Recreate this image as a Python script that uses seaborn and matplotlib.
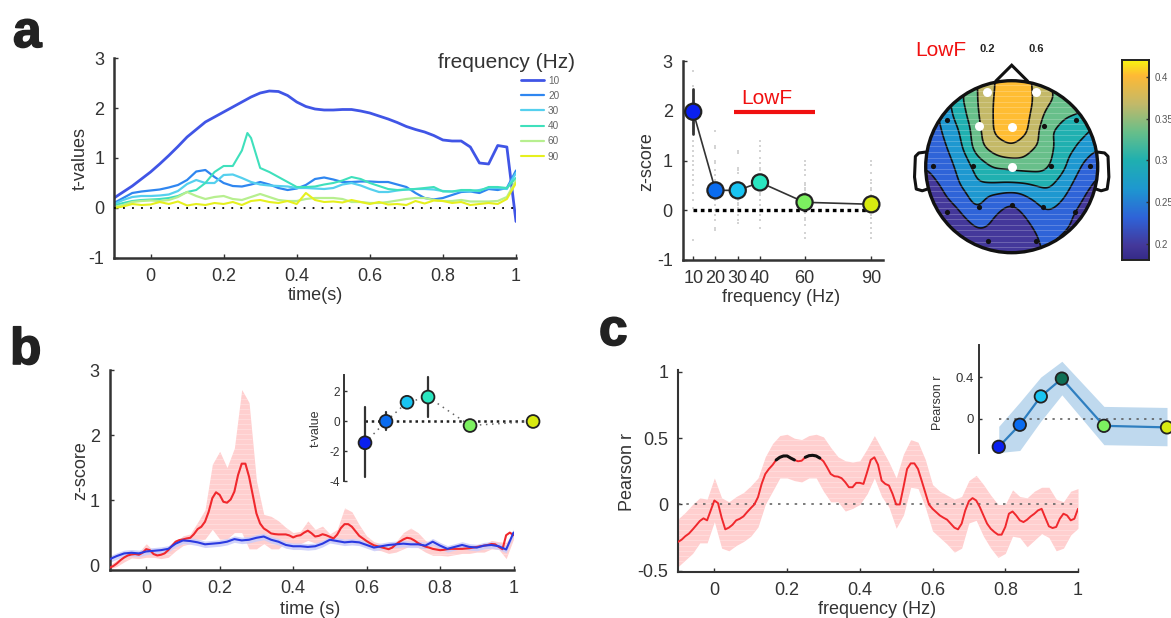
import numpy as np
import matplotlib
matplotlib.use("Agg")
import matplotlib.pyplot as plt
import matplotlib.tri as mtri
import matplotlib.patheffects as pe
from matplotlib.colors import LinearSegmentedColormap
from matplotlib.patches import Circle, Polygon
import seaborn as sns

sns.set_theme(style="ticks")
plt.rcParams["font.family"] = ["Liberation Sans", "DejaVu Sans"]
W, H = 1171, 618
INK = "#333333"
plt.rcParams.update({"text.color": INK, "axes.labelcolor": INK, "xtick.color": INK, "ytick.color": INK,
                     "axes.edgecolor": INK, "axes.unicode_minus": False})

# ---------- data ----------
FREQS = [10, 20, 30, 40, 60, 90]
FREQ_COLORS = ["#0a20f0", "#0a6cf0", "#19c4f2", "#2ae6c0", "#7cf060", "#d8ea10"]
LINE_COLORS = ["#4055e6", "#2f86f0", "#55d0ee", "#3fe0bc", "#b7ef8f", "#e6f01e"]

T_A = np.array([-.1, -.075, -.05, -.025,
                0, .025, .05, .075, .1, .125, .15, .175,
                .2, .225, .25, .275, .3, .325, .35, .375,
                .4, .425, .45, .475, .5, .525, .55, .575,
                .6, .625, .65, .675, .7, .725, .75, .775,
                .8, .825, .85, .875, .9, .925, .95, .975, 1.0])
T_40 = np.array([-.1, -.075, -.05, -.025,
                 0, .025, .05, .075, .1, .125, .15, .175,
                 .2, .225, .25, .265, .275, .3, .325, .35, .375,
                 .4, .425, .45, .475, .5, .525, .55, .575,
                 .6, .625, .65, .675, .7, .725, .75, .775,
                 .8, .825, .85, .875, .9, .925, .95, .975, 1.0])
tv_10 = [.20, .32, .44, .58,
         .72, .88, 1.05, 1.23, 1.42, 1.57, 1.72, 1.82,
         1.92, 2.02, 2.12, 2.22, 2.30, 2.34, 2.33, 2.25,
         2.12, 2.03, 1.98, 1.96, 1.96, 1.97, 1.97, 1.94,
         1.90, 1.84, 1.78, 1.71, 1.63, 1.57, 1.52, 1.45,
         1.36, 1.34, 1.34, 1.22, .90, .88, 1.25, 1.22, -.27]
tv_20 = [.10, .20, .30, .33,
         .35, .37, .41, .46, .56, .73, .76, .62,
         .50, .44, .43, .47, .52, .47, .40, .36,
         .39, .46, .58, .61, .57, .52, .52, .53,
         .53, .52, .52, .47, .42, .30, .20, .17,
         .20, .26, .32, .33, .30, .38, .36, .40, .75]
tv_30 = [.08, .16, .22, .24,
         .24, .25, .27, .34, .48, .56, .50, .50,
         .66, .67, .60, .52, .47, .45, .44, .43,
         .40, .40, .39, .38, .40, .47, .50, .45,
         .38, .32, .32, .35, .37, .38, .38, .37,
         .34, .33, .34, .33, .36, .40, .40, .38, .70]
tv_40 = [.05, .10, .14, .16,
         .17, .18, .20, .24, .32, .36, .50, .72,
         .84, .84, 1.15, 1.50, 1.40, .80, .72, .62, .52,
         .42, .42, .43, .47, .50, .55, .62, .58,
         .50, .44, .38, .36, .37, .38, .40, .42,
         .33, .33, .36, .36, .34, .42, .42, .40, .60]
tv_60 = [.02, .06, .12, .14,
         .15, .14, .16, .22, .32, .24, .18, .22,
         .24, .18, .16, .22, .28, .22, .16, .14,
         .14, .18, .20, .20, .20, .18, .12, .12,
         .10, .10, .12, .15, .18, .20, .20, .16,
         .14, .14, .16, .13, .13, .13, .14, .22, .55]
tv_90 = [0, .03, .08, .06,
         .07, .12, .08, .13, .05, .08, .06, .10,
         .08, .12, .06, .14, .16, .12, .10, .14,
         .08, .30, .16, .12, .13, .11, .16, .12,
         .08, .12, .07, .08, .06, .14, .09, .15,
         .14, .10, .12, .06, .08, .10, .08, .18, .50]

z_mean = [1.98, .40, .40, .56, .16, .12]
z_err_10 = .45
sub_10 = [2.8, 2.5, 2.2, 1.75, 1.6, 1.4, 1.3, 1.2, 1.1, 1.0, .9, .8, .7, .6, .5, .35, .2, .05, -.6]
sub_20 = [1.6, 1.3, 1.25, 1, .95, .8, .7, .6, .5, .4, .3, .2, .1, 0, -.1, -.2, -.35, -.4]
sub_30 = [1.2, 1.15, .85, .8, .75, .5, .45, .4, .35, .3, .25, .2, .15, .1, .05, 0, -.1, -.2, -.25]
sub_40 = [1.4, 1.3, 1.2, 1.05, .95, .85, .8, .6, .5, .45, .35, .3, .2, .1, 0, -.1, -.2, -.35]
sub_60 = [1.0, .9, .8, .7, .55, .5, .45, .4, .35, .3, .25, .2, .1, 0, -.05, -.15, -.2, -.3, -.45, -.55]
sub_90 = [1.0, .9, .75, .6, .55, .45, .4, .3, .25, .2, .15, .1, .05, 0, -.1, -.15, -.25, -.35, -.45, -.55]

TOPO_AXIS = [-1, -.8, -.6, -.4, -.2, 0, .2, .4, .6, .8, 1]
topo_rows = [
    [.240, .260, .300, .355, .385, .410, .390, .360, .330, .300, .270],
    [.230, .265, .312, .351, .388, .410, .392, .362, .340, .330, .320],
    [.220, .262, .300, .347, .390, .410, .390, .342, .320, .315, .300],
    [.225, .250, .283, .338, .390, .410, .385, .322, .305, .292, .270],
    [.225, .240, .272, .334, .365, .378, .358, .330, .300, .275, .249],
    [.215, .228, .260, .295, .320, .325, .330, .325, .290, .249, .215],
    [.205, .218, .250, .280, .282, .280, .283, .294, .269, .231, .208],
    [.195, .205, .228, .262, .230, .217, .241, .264, .247, .216, .195],
    [.185, .190, .205, .234, .213, .195, .217, .240, .230, .200, .185],
    [.185, .185, .190, .205, .200, .190, .205, .225, .213, .195, .185],
    [.183, .183, .185, .188, .190, .188, .200, .220, .200, .188, .185],
]
topo_levels = [.181, .215, .249, .283, .317, .351, .385, .42]
cb_ticks = [.2, .25, .3, .35, .4]
cb_labels = ["0.2", "0.25", "0.3", "0.35", "0.4"]
el_black_x = [-.748, -.91, -.453, -.752, -.376, 0, .368, -.28, .28, .736, .912, .453, .748, .372]
el_black_y = [.543, .008, .008, -.523, -.465, -.446, -.465, -.864, -.864, -.523, .008, .008, .543, .477]
el_white_x = [-.283, .279, -.380, 0, 0]
el_white_y = [.872, .872, .477, .461, 0]

T_BAND = np.arange(56) * .02 - .1
T_LINE = np.arange(111) * .01 - .1
b_red = [-.04, -.015, .025, .077, .118, .149, .164, .17, .159, .19,
         .246, .23, .17, .149, .159, .18, .23, .297, .36, .385,
         .395, .41, .42, .477, .554, .59, .667, .82, 1.03, 1.12,
         1.08, .974, .96, 1.01, 1.13, 1.385, 1.56, 1.56, 1.36, 1.08,
         .795, .64, .564, .528, .487, .477, .472, .472, .472, .456,
         .426, .45, .46, .50, .53, .49, .44, .45, .475, .46,
         .435, .41, .47, .57, .63, .63, .59, .52, .45, .41,
         .37, .335, .305, .29, .275, .26, .245, .27, .32, .36,
         .395, .42, .41, .38, .34, .31, .285, .27, .25, .24,
         .23, .235, .245, .25, .25, .25, .25, .255, .26, .27,
         .28, .29, .30, .31, .325, .32, .28, .245, .46, .50,
         .46]
b_red_hi = [0, .08, .13, .17, .20,
            .33, .22, .20, .25, .35,
            .45, .48, .66, .85, 1.55,
            1.75, 1.50, 1.80, 2.70, 2.50,
            1.30, .78, .75, .68, .58,
            .50, .52, .68, .55, .60,
            .48, .55, .88, .82, .62,
            .45, .36, .33, .30, .36,
            .50, .57, .50, .38, .33,
            .30, .28, .30, .30, .30,
            .30, .32, .38, .36, .35,
            .50]
b_red_lo = [-.06, -.02, .05, .11, .10,
            .12, .12, .10, .12, .22,
            .30, .33, .38, .40, .55,
            .40, .40, .50, .50, .25,
            .25, .33, .25, .25, .35,
            .33, .33, .38, .34, .33,
            .37, .34, .36, .35, .32,
            .29, .24, .22, .18, .20,
            .25, .30, .27, .20, .15,
            .15, .14, .16, .18, .18,
            .20, .20, .25, .24, .10,
            .40]
b_blue = [.09, .14, .18, .19, .18,
          .21, .22, .23, .25, .33,
          .38, .37, .35, .32, .33,
          .34, .36, .40, .38, .39,
          .42, .44, .39, .36, .31,
          .29, .29, .28, .29, .33,
          .39, .37, .35, .36, .35,
          .31, .27, .29, .31, .32,
          .33, .32, .32, .30, .36,
          .30, .25, .28, .31, .28,
          .27, .30, .31, .29, .24,
          .50]
b_blue_sem = .05
inset_b_t = [-1.45, -.02, 1.25, 1.6, -.3, -.03]
inset_b_lo = [-3.73, -.62, .95, .27, -.55, -.3]
inset_b_hi = [.93, .6, 1.55, 2.93, -.05, .25]

c_red = [-.283, -.266, -.24, -.22, -.19, -.158, -.125, -.105, -.12, -.045,
         .03, .01, -.10, -.188, -.175, -.153, -.12, -.108, -.09, -.058,
         -.028, 0, .055, .155, .23, .268, .298, .336, .356, .366,
         .366, .35, .336, .326, .33, .356, .368, .371, .366, .35,
         .326, .28, .23, .213, .21, .198, .168, .13, .13, .163,
         .163, .155, .243, .336, .356, .30, .18, .155, .143, .08,
         0, 0, .13, .268, .31, .31, .268, .18, .09, 0,
         -.033, -.058, -.083, -.10, -.115, -.145, -.175, -.188, -.145, -.045,
         .025, .048, .03, -.02, -.083, -.145, -.183, -.208, -.228, -.228,
         -.17, -.07, -.053, -.083, -.12, -.133, -.115, -.09, -.07, -.045,
         -.033, -.10, -.165, -.178, -.17, -.108, -.07, -.083, -.12, -.108,
         -.033]
c_hi = [-.11, -.06, 0, .05, .04,
        .20, .05, .02, .06, .09,
        .14, .20, .36, .46, .52,
        .53, .50, .49, .52, .53,
        .51, .43, .36, .33, .32,
        .33, .42, .52, .42, .32,
        .20, .38, .49, .47, .34,
        .15, .10, .07, .04, .06,
        .18, .22, .15, .07, 0,
        0, .11, .06, .05, .10,
        .13, .13, .04, .02, .10,
        .12]
c_lo = [-.47, -.42, -.37, -.29, -.29,
        -.13, -.33, -.35, -.31, -.28,
        -.24, -.17, 0, .10, .20,
        .20, .18, .17, .20, .20,
        .10, .02, .02, -.05, -.03,
        0, .08, .20, .06, -.02,
        -.18, -.08, .13, .12, -.02,
        -.20, -.25, -.30, -.36, -.33,
        -.14, -.12, -.24, -.33, -.40,
        -.37, -.24, -.25, -.32, -.27,
        -.22, -.25, -.35, -.33, -.23,
        -.18]
inset_c_r = [-.265, -.055, .215, .385, -.065, -.08]
inset_c_hi = [-.07, .16, .40, .55, .12, .11]
inset_c_lo = [-.32, -.30, -.02, .23, -.245, -.255]
inset_c_colors = ["#0a20f0", "#0a6cf0", "#19c4f2", "#0f6f55", "#7cf060", "#d8ea10"]

# ---------- helpers ----------
fig = plt.figure(figsize=(W / 100, H / 100), dpi=100, facecolor="white")


def px_axes(l, t, r, b):
    ax = fig.add_axes([l / W, 1 - b / H, (r - l) / W, (b - t) / H])
    ax.patch.set_alpha(0)
    return ax


def ftext(x, y, s, **kw):
    kw.setdefault("ha", "center")
    kw.setdefault("va", "center")
    return fig.text(x / W, 1 - y / H, s, **kw)


def style(ax, lw=1.8, ts=13):
    sns.despine(ax=ax)
    ax.spines["left"].set_linewidth(lw)
    ax.spines["bottom"].set_linewidth(lw)
    ax.tick_params(direction="in", length=3, width=1, labelsize=ts, pad=7)


def line(ax, x, y, color, lw=1.5, **kw):
    sns.lineplot(x=np.asarray(x), y=np.asarray(y), ax=ax, color=color, lw=lw,
                 estimator=None, errorbar=None, legend=False, **kw)
    return ax.lines[-1]


def band(ax, x, lo, hi, color, step, lw=.6):
    poly = ax.fill_between(x, lo, hi, color=color, lw=0, zorder=1)
    ys = np.arange(np.min(lo), np.max(hi), step)
    st = ax.hlines(ys, np.min(x), np.max(x), color="white", lw=lw, alpha=.3, zorder=1.5)
    st.set_clip_path(poly.get_paths()[0], poly.get_transform())
    return poly


def dots(ax, y, size=85, lw=1.3, colors=FREQ_COLORS):
    names = [str(f) for f in FREQS]
    sns.scatterplot(x=FREQS, y=y, hue=names, palette=dict(zip(names, colors)), s=size,
                    edgecolor="#222222", linewidth=lw, legend=False, ax=ax, zorder=5, clip_on=False)


TIME_TICKS = [0, .2, .4, .6, .8, 1]
TIME_LABELS = ["0", "0.2", "0.4", "0.6", "0.8", "1"]

# ---------- panel a, time courses ----------
ax = px_axes(114, 58, 516, 258)
handles = []
for t, y, c, lw in zip([T_A, T_A, T_A, T_40, T_A, T_A], [tv_10, tv_20, tv_30, tv_40, tv_60, tv_90],
                       LINE_COLORS, [2, 1.6, 1.6, 1.5, 1.6, 1.5]):
    handles.append(line(ax, t, y, c, lw=lw))
ax.plot([-.1, 1], [0, 0], color="black", lw=1.3, ls=(0, (1, 4)), zorder=6)
ax.set_xlim(-.1, 1)
ax.set_ylim(-1, 3)
ax.set_xticks(TIME_TICKS, TIME_LABELS)
ax.set_yticks([-1, 0, 1, 2, 3])
ax.set_xlabel("")
ax.set_ylabel("")
style(ax)
ftext(80, 159, "t-values", rotation=90, fontsize=13)
ftext(315, 296, "time(s)", fontsize=13)
ftext(506, 62, "frequency (Hz)", fontsize=15)
fig.legend(handles, [str(f) for f in FREQS], loc="upper left",
           bbox_to_anchor=(520.5 / W, 1 - 75.5 / H), frameon=False, fontsize=7.2, borderpad=0,
           borderaxespad=0, labelspacing=.52, handlelength=2.35, handletextpad=.4, labelcolor="#666666")

# ---------- panel a, z-score by frequency ----------
ax = px_axes(682.5, 61, 882.5, 260)
for f, vals in zip(FREQS, [sub_10, sub_20, sub_30, sub_40, sub_60, sub_90]):
    sns.scatterplot(x=[f] * len(vals), y=vals, marker="s", s=2.5, color="#d4d4d4", linewidth=0, ax=ax,
                    legend=False, zorder=2)
ax.plot([10, 90], [0, 0], color="black", lw=2.4, ls=(0, (1.1, 1.1)), zorder=3)
ax.plot([10, 10], [z_mean[0] - z_err_10, z_mean[0] + z_err_10], color="#333333", lw=2, zorder=3)
line(ax, FREQS, z_mean, "#333333", lw=1.2, zorder=4)
dots(ax, z_mean, size=135, lw=1.6)
ax.plot([28.5, 64.5], [1.97, 1.97], color="#f01010", lw=3, solid_capstyle="butt")
ax.set_xlim(5.2, 95)
ax.set_ylim(-1, 3)
ax.set_xticks(FREQS, [str(f) for f in FREQS])
ax.set_yticks([-1, 0, 1, 2, 3])
ax.set_xlabel("")
ax.set_ylabel("")
style(ax)
ftext(647, 162, "z-score", rotation=90, fontsize=13)
ftext(781, 298, "frequency (Hz)", fontsize=13)
ftext(767, 98, "LowF", color="#f01010", fontsize=15)

# ---------- panel a, topography ----------
ax = px_axes(905, 55, 1115, 270)
cx, cy, r = 1011.7, 166.7, 86.0
ax.set_xlim((905 - cx) / r, (1115 - cx) / r)
ax.set_ylim((cy - 270) / r, (cy - 55) / r)
ax.axis("off")
parula = LinearSegmentedColormap.from_list(
    "parula_ref",
    [(0, "#352a87"), (.07, "#44389a"), (.21, "#2f63d8"), (.356, "#1e98d0"), (.5, "#20b0b0"),
     (.64, "#68bf8a"), (.78, "#c2b96a"), (.925, "#ffba35"), (1, "#f8f510")])
gx, gy = np.meshgrid(TOPO_AXIS, TOPO_AXIS[::-1])
tri = mtri.Triangulation(gx.ravel(), gy.ravel())
fx, fy = np.meshgrid(np.linspace(-1, 1, 201), np.linspace(-1, 1, 201))
fz = mtri.LinearTriInterpolator(tri, np.array(topo_rows).ravel())(fx, fy)
fz = np.ma.filled(fz, .2)
kernel = np.ones(11) / 11
for _ in range(3):      # soften the grid facets so the contours read as smooth isolines
    pad = np.pad(fz, 5, mode="edge")
    fz = np.apply_along_axis(lambda v: np.convolve(v, kernel, mode="valid"), 0, pad)
    fz = np.apply_along_axis(lambda v: np.convolve(v, kernel, mode="valid"), 1, fz)
fz = np.clip(fz, .1815, .4195)
head = Circle((0, 0), 1, transform=ax.transData, fc="none", ec="none")
ax.add_patch(head)
cf = ax.contourf(fx, fy, fz, levels=topo_levels, cmap=parula, vmin=.181, vmax=.42)
cl = ax.contour(fx, fy, fz, levels=topo_levels[1:-1], colors="#111111", linewidths=1.2)
cf.set_clip_path(head)
cl.set_clip_path(head)
st = ax.hlines(np.arange(-1, 1, .065), -1, 1, color="white", lw=.6, alpha=.25, zorder=3)
st.set_clip_path(head)
ax.add_patch(Circle((0, 0), 1, fc="none", ec="#111111", lw=2.4, zorder=6))
ax.add_patch(Polygon([[-.19, .99], [0, 1.18], [.19, .99]], closed=False, fc="white", ec="#111111", lw=2.2,
                     zorder=5, clip_on=False))
for s in (-1, 1):
    ax.plot(s * np.array([1.0, 1.08, 1.12, 1.13, 1.11, 1.04, .98]),
            [.17, .16, .12, -.12, -.26, -.28, -.26], color="#111111", lw=2.2, clip_on=False, zorder=2)
sns.scatterplot(x=el_black_x, y=el_black_y, color="#111111", s=14, linewidth=0, ax=ax, zorder=7, legend=False)
sns.scatterplot(x=el_white_x, y=el_white_y, color="white", s=42, linewidth=0, ax=ax, zorder=7, legend=False)
ax.set_xlabel("")
ax.set_ylabel("")
ftext(941, 51, "LowF", color="#f01010", fontsize=15)
ftext(987, 49, "0.2", fontsize=8, fontweight="bold", color="#222222")
ftext(1036, 49, "0.6", fontsize=8, fontweight="bold", color="#222222")

# colour bar
cax = px_axes(1122, 60, 1149, 260)
grad = np.linspace(.181, .42, 256).reshape(-1, 1)
cax.imshow(grad, origin="lower", aspect="auto", cmap=parula, extent=[0, 1, .181, .42], vmin=.181, vmax=.42)
cax.set_xticks([])
cax.set_yticks(cb_ticks, cb_labels)
cax.yaxis.tick_right()
cax.tick_params(axis="y", direction="in", length=2, width=1, labelsize=7, pad=4, labelcolor="#555555")
for sp in cax.spines.values():
    sp.set_linewidth(1.4)
    sp.set_color("#222222")

# ---------- panel b ----------
ax = px_axes(109.5, 370, 513.5, 570)
band(ax, T_BAND, b_red_lo, b_red_hi, "#ffcfcf", .077)
ax.fill_between(T_BAND, np.array(b_blue) - b_blue_sem, np.array(b_blue) + b_blue_sem, color="#c9ccfa", lw=0,
                alpha=.85, zorder=1.6)
line(ax, T_LINE, b_red, "#f0282d", lw=1.5, zorder=3)
line(ax, T_BAND, b_blue, "#2a3ae0", lw=1.5, zorder=4)
ax.set_xlim(-.1, 1)
ax.set_ylim(-.075, 3)
ax.set_xticks(TIME_TICKS, TIME_LABELS)
ax.set_yticks([0, 1, 2, 3])
ax.set_xlabel("")
ax.set_ylabel("")
style(ax)
ftext(81, 471, "z-score", rotation=90, fontsize=13)
ftext(310, 610, "time (s)", fontsize=13)

# inset b
ax = px_axes(344, 375, 540, 481)
ax.plot([10, 90], [0, 0], color="#222222", lw=1.8, ls=(0, (1, 1.5)), zorder=2)
line(ax, FREQS, inset_b_t, "#666666", lw=1.1, ls=(0, (1, 3)), zorder=2)
for f, lo, hi in zip(FREQS, inset_b_lo, inset_b_hi):
    ax.plot([f, f], [lo, hi], color="#333333", lw=1.6, zorder=3, clip_on=False)
dots(ax, inset_b_t, size=85)
ax.set_xlim(0, 93.3)
ax.set_ylim(-4, 3.07)
ax.set_xticks([])
ax.set_yticks([-4, -2, 0, 2])
ax.set_xlabel("")
ax.set_ylabel("")
style(ax, lw=1.4, ts=8.5)
ax.spines["bottom"].set_visible(False)
ax.tick_params(axis="y", pad=3, length=2)
ftext(316, 428, "t-value", rotation=90, fontsize=9)

# ---------- panel c ----------
ax = px_axes(678, 370, 1078, 572)
band(ax, T_BAND, c_lo, c_hi, "#ffcfcf", .04)
ax.plot([-.1, 1], [0, 0], color="#666666", lw=1.2, ls=(0, (1.5, 3.5)), zorder=2)
line(ax, T_LINE, c_red, "#f0282d", lw=1.4, zorder=3)
for i, j in [(27, 33), (35, 40)]:
    line(ax, T_LINE[i:j], c_red[i:j], "#111111", lw=2.2, zorder=4)
ax.set_xlim(-.1, 1)
ax.set_ylim(-.51, 1.015)
ax.set_xticks(TIME_TICKS, TIME_LABELS)
ax.set_yticks([-.5, 0, .5, 1], ["-0.5", "0", "0.5", "1"])
ax.set_xlabel("")
ax.set_ylabel("")
style(ax, lw=1.5)
ftext(628, 472, "Pearson r", rotation=90, fontsize=13)
ftext(877, 609, "frequency (Hz)", fontsize=13)

# inset c
ax = px_axes(979, 345, 1171, 453)
ax.fill_between(FREQS, inset_c_lo, inset_c_hi, color="#bfd9ee", lw=0, zorder=1)
ax.plot([10, 90], [0, 0], color="#555555", lw=1.1, ls=(0, (1.5, 3.5)), zorder=2)
line(ax, FREQS, inset_c_r, "#2f7fc0", lw=1.6, zorder=3)
dots(ax, inset_c_r, size=80, colors=inset_c_colors)
ax.set_xlim(.6, 91.9)
ax.set_ylim(-.324, .705)
ax.set_xticks([])
ax.set_yticks([0, .4], ["0", "0.4"])
ax.set_xlabel("")
ax.set_ylabel("")
style(ax, lw=1.4, ts=9.5)
ax.spines["bottom"].set_visible(False)
ax.tick_params(axis="y", pad=4, length=2)
ftext(938, 403, "Pearson r", rotation=90, fontsize=9)

# ---------- panel letters ----------
for x, y, s in [(13, 47, "a"), (10, 364, "b"), (599, 345, "c")]:
    t = ftext(x, y, s, ha="left", va="baseline", fontsize=37, fontweight="bold", color="#222222")
    t.set_path_effects([pe.withStroke(linewidth=1.2, foreground="#222222")])

fig.savefig("out.png", dpi=100)
